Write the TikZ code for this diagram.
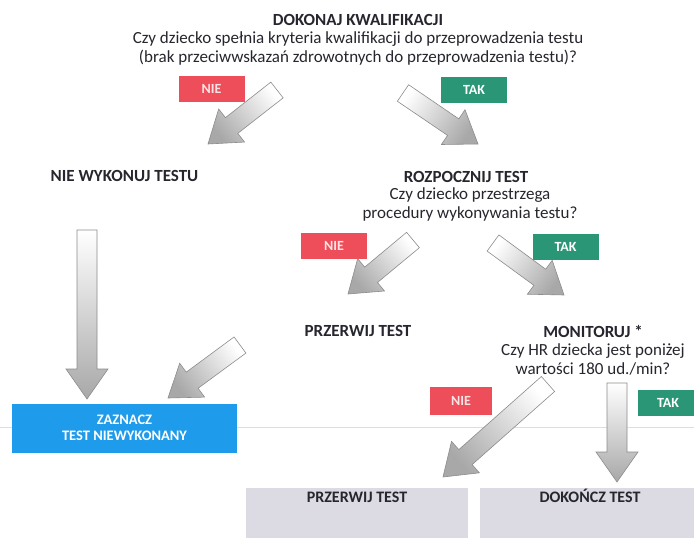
\documentclass[tikz,border=0pt]{standalone}
\usepackage{fontspec}
\setmainfont{Carlito}
\usetikzlibrary{calc}
\definecolor{nered}{HTML}{EE4E5A}
\definecolor{takgreen}{HTML}{2A9676}
\definecolor{zblue}{HTML}{1E9BEA}
\definecolor{pgray}{HTML}{DCDBE4}
\definecolor{txt}{HTML}{26262E}
\definecolor{arrline}{HTML}{8C8C8C}
\definecolor{arrfill}{HTML}{A8A8A8}
\definecolor{scanline}{HTML}{F0D6D8}
\newcommand\blockarrow[2]{%
  \path let \p1=($(#2)-(#1)$) in \pgfextra{\pgfmathsetmacro\barrang{atan2(\y1,\x1)}\xdef\barrang{\barrang}\pgfmathsetmacro\barrsh{\barrang-90}\xdef\barrsh{\barrsh}};
  \path[draw=arrline, line width=0.6pt, line join=miter, top color=arrfill, bottom color=white, shading angle=\barrsh]
    ($(#1)+(\barrang+90:10pt)$) -- ($(#2)+(\barrang+180:30pt)+(\barrang+90:10pt)$)
    -- ($(#2)+(\barrang+180:30pt)+(\barrang+90:21pt)$) -- (#2)
    -- ($(#2)+(\barrang+180:30pt)+(\barrang-90:21pt)$)
    -- ($(#2)+(\barrang+180:30pt)+(\barrang-90:10pt)$)
    -- ($(#1)+(\barrang-90:10pt)$) -- cycle;}
\begin{document}
\begin{tikzpicture}[x=1pt,y=-1pt,
  txtblock/.style={font=\fontsize{17}{19}\selectfont, text=txt, align=center, inner sep=0pt},
  headtxt/.style={font=\fontsize{17}{19}\selectfont\bfseries, text=txt, inner sep=0pt},
  answer/.style={minimum width=66pt, minimum height=26pt, inner sep=0pt, font=\fontsize{14}{16}\selectfont\bfseries},
  nobox/.style={answer, fill=nered, text=white!85!nered},
  yesbox/.style={answer, fill=takgreen, text=white},
  panel/.style={fill=pgray, inner ysep=3pt, text height=11.5pt, text depth=32.5pt, font=\fontsize{16}{18}\selectfont\bfseries, text=txt}
]
\useasboundingbox (0,0) rectangle (694,538);
\fill[white] (0,0) rectangle (694,538);
\draw[scanline, line width=0.8pt] (0,427) -- (694,427);

% top question
\node[headtxt] (t1) at (358,20) {DOKONAJ KWALIFIKACJI};
\node[txtblock] (q1) at (358,48) {Czy dziecko spełnia kryteria kwalifikacji do przeprowadzenia testu\\(brak przeciwwskazań zdrowotnych do przeprowadzenia testu)?};
\node[nobox] (nie1) at (211.5,89) {NIE};
\node[yesbox] (tak1) at (474,89.5) {TAK};

\node[headtxt] (nowyk) at (124.5,176) {NIE WYKONUJ TESTU};
\node[headtxt] (rozp) at (466,177) {ROZPOCZNIJ TEST};
\node[txtblock] (q2) at (470,204) {Czy dziecko przestrzega\\procedury wykonywania testu?};
\node[nobox] (nie2) at (334,245.5) {NIE};
\node[yesbox] (tak2) at (565.5,246.5) {TAK};

\node[headtxt] (prz1) at (358,331) {PRZERWIJ TEST};
\node[headtxt] (mon) at (593,331) {MONITORUJ *};
\node[txtblock] (q3) at (593,359) {Czy HR dziecka jest poniżej\\wartości 180 ud./min?};
\node[nobox, minimum width=62pt, minimum height=28pt] (nie3) at (461,401) {NIE};
\node[yesbox, minimum width=60pt] (tak3) at (668,402.5) {TAK};

\node[fill=zblue, text=white, minimum width=225pt, minimum height=49pt, inner sep=0pt, align=center,
  font=\fontsize{14.5}{16.5}\selectfont\bfseries] (zazn) at (124.5,428) {ZAZNACZ\\TEST NIEWYKONANY};

\node[panel, minimum width=222pt, anchor=north] (prz2) at (357,488) {PRZERWIJ TEST};
\node[panel, minimum width=220pt, anchor=north] (dok) at (590,488) {DOKOŃCZ TEST};

% arrows
\coordinate (a1s) at (277,90);  \coordinate (a1e) at (208,144);
\coordinate (a2s) at (403,93);  \coordinate (a2e) at (478,144);
\coordinate (a3s) at (413,240); \coordinate (a3e) at (348,294);
\coordinate (a4s) at (493,243); \coordinate (a4e) at (564,295);
\coordinate (a5s) at (87,230);  \coordinate (a5e) at (87,399);
\coordinate (a6s) at (240,345); \coordinate (a6e) at (168,398);
\coordinate (a7s) at (548,384); \coordinate (a7e) at (443,477);
\coordinate (a8s) at (617,383); \coordinate (a8e) at (617,482);
\blockarrow{a1s}{a1e}
\blockarrow{a2s}{a2e}
\blockarrow{a3s}{a3e}
\blockarrow{a4s}{a4e}
\blockarrow{a5s}{a5e}
\blockarrow{a6s}{a6e}
\blockarrow{a7s}{a7e}
\blockarrow{a8s}{a8e}
\end{tikzpicture}
\end{document}
